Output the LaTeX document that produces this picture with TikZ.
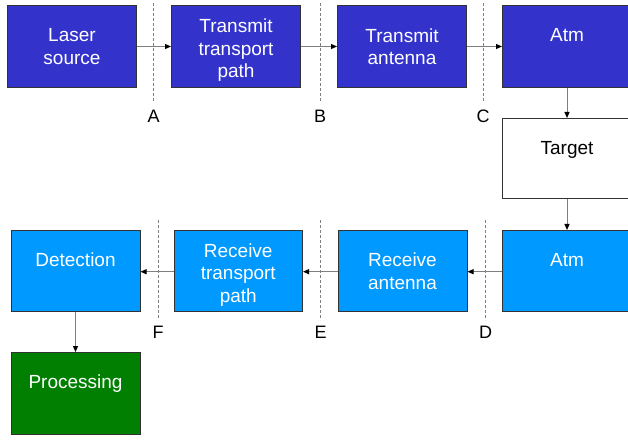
\documentclass[tikz,border=0pt]{standalone}
\usepackage{fontspec}
\setmainfont{Liberation Sans}
\usetikzlibrary{arrows.meta}
\definecolor{txblue}{HTML}{3333CC}
\definecolor{rxblue}{HTML}{0099FF}
\definecolor{procgreen}{HTML}{007F00}
\definecolor{linegray}{HTML}{7F7F7F}
\begin{document}
\begin{tikzpicture}[x=1pt,y=1pt,
  box/.style={draw=black!80, line width=1pt, minimum width=129pt, minimum height=82pt,
    inner sep=0pt, align=center, text=white, font=\fontsize{19}{22.5}\selectfont},
  txbox/.style={box, fill=txblue},
  rxbox/.style={box, fill=rxblue},
  procbox/.style={box, fill=procgreen},
  tgtbox/.style={box, fill=white, text=black},
  boxtext/.style={inner sep=0pt, align=center, text=white, font=\fontsize{19}{22.5}\selectfont},
  conn/.style={draw=linegray, line width=1pt, -{Triangle[length=6pt,width=5pt,color=black]}},
  cut/.style={draw=gray, line width=1pt, dash pattern=on 3pt off 2pt},
  cutlabel/.style={font=\fontsize{18}{20}\selectfont, text=black}
]
\useasboundingbox (0,0) rectangle (628,439);
\clip (0,0) rectangle (628,439);
% top row
\node[txbox] (laser) at (72,392.5) {Laser\\source};
\node[txbox] (ttp) at (236,392.5) {};
\node[boxtext] (ttptext) at ([yshift=-4pt]ttp.center) {Transmit\\transport\\path};
\node[txbox] (tant) at (402,392.5) {Transmit\\antenna};
\node[txbox] (atm1) at (567,392.5) {Atm\\\phantom{A}};
% target
\node[tgtbox, minimum height=80.5pt] (target) at (567,280.25) {Target\\\phantom{A}};
% bottom row
\node[rxbox, minimum height=81pt] (atm2) at (567,168) {Atm\\\phantom{A}};
\node[rxbox, minimum height=81pt] (rant) at (402.5,168) {Receive\\antenna};
\node[rxbox, minimum height=81pt, minimum width=128.5pt] (rtp) at (238.25,168) {};
\node[boxtext] (rtptext) at ([yshift=-4pt]rtp.center) {Receive\\transport\\path};
\node[rxbox, minimum height=81pt] (det) at (75.5,168) {Detection\\\phantom{A}};
\node[procbox, minimum height=81.5pt] (proc) at (75.5,45.75) {Processing\\\phantom{A}};
% connectors
\draw[conn] (laser.east) -- (ttp.west);
\draw[conn] (ttp.east) -- (tant.west);
\draw[conn] (tant.east) -- (atm1.west);
\draw[conn] (atm1.south) -- (target.north);
\draw[conn] (target.south) -- (atm2.north);
\draw[conn] ([yshift=-0.7pt]atm2.west) -- ([yshift=-0.7pt]rant.east);
\draw[conn] ([yshift=-0.7pt]rant.west) -- ([yshift=-0.7pt]rtp.east);
\draw[conn] ([yshift=-0.7pt]rtp.west) -- ([yshift=-0.7pt]det.east);
\draw[conn] (det.south) -- (proc.north);
% cut lines
\coordinate (a1) at (153.7,436); \coordinate (a2) at (153.7,337);
\coordinate (b1) at (320,436); \coordinate (b2) at (320,337);
\coordinate (c1) at (483,436); \coordinate (c2) at (483,337);
\coordinate (d1) at (485.7,219); \coordinate (d2) at (485.7,119);
\coordinate (e1) at (320.7,219); \coordinate (e2) at (320.7,119);
\coordinate (f1) at (158,219); \coordinate (f2) at (158,119);
\draw[cut] (a1) -- (a2);
\draw[cut] (b1) -- (b2);
\draw[cut] (c1) -- (c2);
\draw[cut] (d1) -- (d2);
\draw[cut] (e1) -- (e2);
\draw[cut] (f1) -- (f2);
\node[cutlabel] (la) at (153.7,323) {A};
\node[cutlabel] (lb) at (320,323) {B};
\node[cutlabel] (lc) at (483,323) {C};
\node[cutlabel] (ld) at (485.7,107) {D};
\node[cutlabel] (le) at (320.7,107) {E};
\node[cutlabel] (lf) at (158,107) {F};
\end{tikzpicture}
\end{document}
